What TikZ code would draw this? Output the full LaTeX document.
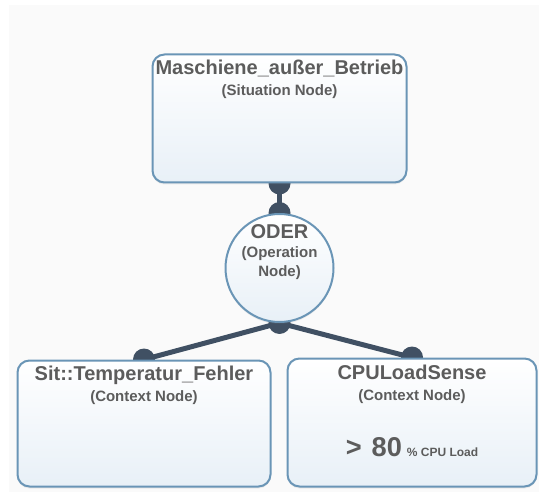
\documentclass[tikz,border=0pt]{standalone}
\usepackage{fontspec}
\setmainfont{Liberation Sans}
\usetikzlibrary{positioning,shadows}

\pgfdeclarelayer{back}
\pgfdeclarelayer{links}
\pgfsetlayers{back,links,main}

\definecolor{boxline}{RGB}{106,149,182}
\definecolor{boxfill}{RGB}{232,240,247}
\definecolor{linkc}{RGB}{64,80,99}
\definecolor{txt}{RGB}{92,92,92}
\definecolor{canvas}{RGB}{250,250,250}

\begin{document}
\begin{tikzpicture}[x=0.5pt,y=0.5pt]
    \tikzstyle{box}=[rectangle, rounded corners=6pt, draw=boxline, line width=1pt,
                     top color=white, bottom color=boxfill,
                     drop shadow={shadow xshift=0pt, shadow yshift=-1pt, opacity=0.12}]
    \tikzstyle{opnode}=[box, circle, minimum size=54pt, inner sep=0pt]
    \tikzstyle{title}=[inner sep=0pt, text=txt, font=\bfseries\fontsize{10}{12}\selectfont,
                       text height=7.2pt, text depth=2pt]
    \tikzstyle{sub}=[inner sep=0pt, text=txt, align=center,
                     font=\bfseries\fontsize{7.5}{9.5}\selectfont]
    \tikzstyle{link}=[linkc, line width=2.5pt]
    \tikzstyle{tab}=[fill=linkc]

    \useasboundingbox (0,0) rectangle (539,492);

    % situation, operation and the two context nodes
    \node[box, minimum width=127pt, minimum height=64pt] (sit) at (279.5,373.5) {};
    \node[opnode] (op) at (279.5,224) {};
    \node[box, minimum width=126.5pt, minimum height=63pt] (ctxa) at (144,68.5) {};
    \node[box, minimum width=124.5pt, minimum height=64pt] (ctxb) at (412,69.5) {};

    \node[title, below=3.3pt of sit.north] (sitname) {Maschiene\_außer\_Betrieb};
    \node[sub, below=2.3pt of sitname] (sittype) {(Situation Node)};

    \node[title, below=5.5pt of op.north] (opname) {ODER};
    \node[sub, below=1.3pt of opname] (optype) {(Operation\\Node)};

    \node[title, below=3pt of ctxa.north] (ctxaname) {Sit::Temperatur\_Fehler};
    \node[sub, below=3pt of ctxaname] (ctxatype) {(Context Node)};

    \node[title, below=3.5pt of ctxb.north] (ctxbname) {CPULoadSense};
    \node[sub, below=3pt of ctxbname] (ctxbtype) {(Context Node)};
    \node[inner sep=0pt, text=txt, font=\bfseries, below=16.5pt of ctxbtype] (ctxbval)
        {{\fontsize{13.6}{15}\selectfont >\hspace{5pt}80}\hspace{2.5pt}{\fontsize{6}{7}\selectfont\% CPU Load}};

    % connectors with their end tabs, behind the nodes
    \begin{pgfonlayer}{links}
        \draw[link] (sit.south) -- (op.north);
        \draw[link] (op.south) -- (ctxa.north);
        \draw[link] (op.south) -- (ctxb.north);
        \foreach \a in {sit.south, op.north, op.south, ctxa.north, ctxb.north}
            \fill[tab] (\a) circle (5.5pt);
    \end{pgfonlayer}

    \begin{pgfonlayer}{back}
        \fill[white] (0,0) rectangle (539,492);
        \fill[canvas] (9,0) rectangle (539,487);
    \end{pgfonlayer}
\end{tikzpicture}
\end{document}
